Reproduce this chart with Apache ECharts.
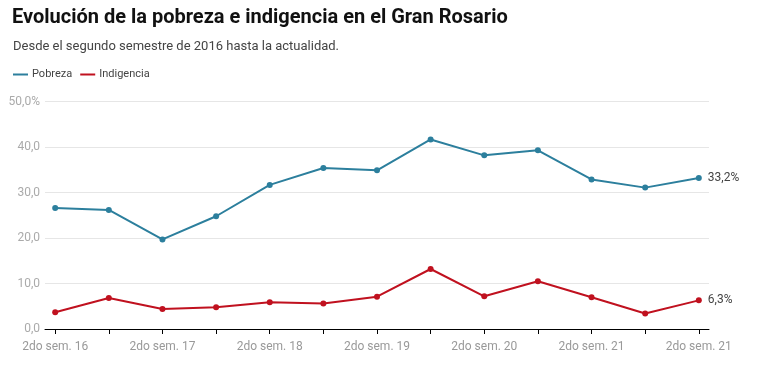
<!DOCTYPE html>
<html>
<head>
<meta charset="utf-8">
<script src="https://cdn.jsdelivr.net/npm/echarts@6/dist/echarts.min.js"></script>
<style>
html,body{margin:0;padding:0;background:#fff;}
#c{width:761px;height:367px;}
</style>
</head>
<body>
<div id="c"></div>
<script>
const categories = ["2do sem. 16","1er sem. 17","2do sem. 17","1er sem. 18","2do sem. 18","1er sem. 19","2do sem. 19","1er sem. 20","2do sem. 20","1er sem. 21","2do sem. 21","1er sem. 22","2do sem. 21"];
const pobreza = [26.6, 26.2, 19.7, 24.8, 31.7, 35.4, 34.9, 41.7, 38.2, 39.3, 32.9, 31.1, 33.2];
const indigencia = [3.7, 6.8, 4.4, 4.8, 5.9, 5.6, 7.1, 13.2, 7.2, 10.5, 7.0, 3.4, 6.3];
const yTicks = [0, 10, 20, 30, 40, 50];

const fmt = v => v.toFixed(1).replace('.', ',');
const idx = categories.map((_, i) => i);
const labelIdx = idx.filter(i => i % 2 === 0);

const chart = echarts.init(document.getElementById('c'), null, {renderer: 'canvas'});
chart.setOption({
  animation: false,
  textStyle: {fontFamily: 'Roboto'},
  title: [{
    text: 'Evolución de la pobreza e indigencia en el Gran Rosario',
    left: 7, top: 3,
    textStyle: {fontFamily: 'Roboto', fontSize: 20, fontWeight: 'bold', color: '#111'}
  }, {
    text: 'Desde el segundo semestre de 2016 hasta la actualidad.',
    left: 8, top: 35,
    textStyle: {fontFamily: 'Roboto', fontSize: 13, fontWeight: 'normal', color: '#444'}
  }],
  legend: {
    left: 8, top: 64,
    icon: 'rect', itemWidth: 15, itemHeight: 2, itemGap: 8,
    textStyle: {fontSize: 11, color: '#444', padding: [0,0,0,-1]},
    data: ['Pobreza', 'Indigencia']
  },
  grid: {left: 45, right: 52, top: 101.7, bottom: 38},
  xAxis: {
    type: 'value', min: -0.19, max: 12.19,
    axisLine: {show: true, onZero: false, lineStyle: {color: '#000', width: 1}},
    axisTick: {show: true, customValues: idx, length: 5, lineStyle: {color: '#000'}},
    axisLabel: {customValues: labelIdx, formatter: v => categories[Math.round(v)], color: '#999', fontSize: 12, margin: 12},
    splitLine: {show: false}
  },
  yAxis: {
    type: 'value', min: 0, max: 50, interval: 10,
    axisLine: {show: false}, axisTick: {show: false},
    axisLabel: {formatter: v => v === 50 ? fmt(v) + '%' : fmt(v), color: '#aaa', fontSize: 12, margin: 5},
    splitLine: {lineStyle: {color: '#e6e6e6'}}
  },
  series: [{
    name: 'Pobreza', type: 'line',
    data: pobreza.map((v, i) => [i, v]),
    color: '#2c7f9d',
    lineStyle: {width: 2}, symbol: 'circle', symbolSize: 6,
    endLabel: {show: true, formatter: p => fmt(p.value[1]) + '%', color: '#444', fontSize: 12, distance: 9}
  }, {
    name: 'Indigencia', type: 'line',
    data: indigencia.map((v, i) => [i, v]),
    color: '#c0111f',
    lineStyle: {width: 2}, symbol: 'circle', symbolSize: 6,
    endLabel: {show: true, formatter: p => fmt(p.value[1]) + '%', color: '#444', fontSize: 12, distance: 9}
  }]
});
</script>
</body>
</html>
